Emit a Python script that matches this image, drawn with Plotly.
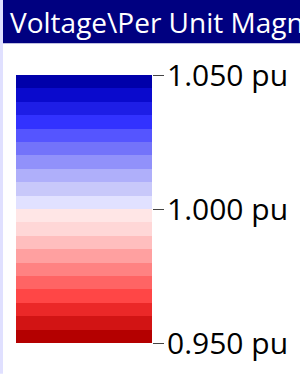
import plotly.graph_objects as go

# Band boundaries (pu) and band colours, bottom (0.950) to top (1.050)
band_starts = [0.950, 0.955, 0.960, 0.965, 0.970, 0.975, 0.980, 0.985, 0.990, 0.995,
               1.000, 1.005, 1.010, 1.015, 1.020, 1.025, 1.030, 1.035, 1.040, 1.045]
band_size = 0.005
band_colors = [
    "#b40000", "#d21414", "#eb2828", "#ff4646", "#ff6464",
    "#ff8282", "#ffa0a0", "#ffbebe", "#ffd7d7", "#ffe6e6",
    "#e1e1ff", "#c8c8fa", "#afaffa", "#9191fa", "#7373fa",
    "#5555ff", "#3232ff", "#1e1ee6", "#0a0acd", "#0000aa",
]
tick_values = [0.950, 1.000, 1.050]
tick_labels = ["0.950 pu", "1.000 pu", "1.050 pu"]
title_text = "Voltage\\Per Unit Magnitude"

W, H = 300, 375
L, R, T, B = 16, 148, 75, 29
pw, ph = W - L - R, H - T - B

def px_x(p):
    return (p - L) / pw

def px_y(p):
    return (H - B - p) / ph

fig = go.Figure()
fig.add_trace(go.Bar(
    x=[0] * len(band_starts),
    y=[band_size] * len(band_starts),
    base=band_starts,
    width=1,
    marker=dict(color=band_colors, line=dict(width=0)),
    hoverinfo="skip",
))

fig.update_layout(
    width=W, height=H,
    margin=dict(l=L, r=R, t=T, b=B, pad=0),
    paper_bgcolor="white", plot_bgcolor="white",
    barmode="overlay", bargap=0, showlegend=False,
    xaxis=dict(range=[-0.5, 0.5], visible=False, fixedrange=True),
    yaxis=dict(
        range=[0.950, 1.050], side="right",
        tickvals=tick_values, ticktext=tick_labels,
        ticks="outside", ticklen=11, tickwidth=1, tickcolor="#444444",
        showgrid=False, zeroline=False, showline=False,
        tickfont=dict(family="Open Sans", size=30, color="black"),
        ticklabelstandoff=-3,
        fixedrange=True,
    ),
    shapes=[
        dict(type="rect", xref="paper", yref="paper", layer="above",
             x0=px_x(3), x1=px_x(W + 5), y0=px_y(43), y1=px_y(-2),
             fillcolor="#000080", line=dict(width=0)),
        dict(type="rect", xref="paper", yref="paper", layer="above",
             x0=px_x(-2), x1=px_x(3), y0=px_y(H + 2), y1=px_y(-2),
             fillcolor="#e0e0ff", line=dict(width=0)),
    ],
    annotations=[
        dict(text=title_text, xref="paper", yref="paper",
             x=px_x(8), y=px_y(21), xanchor="left", yanchor="middle",
             showarrow=False,
             font=dict(family="Open Sans", size=28, color="white")),
    ],
)

fig.write_html(
    "out.html",
    config={"displayModeBar": False},
    post_script="document.body.style.margin='0';document.body.style.overflow='hidden';",
)
